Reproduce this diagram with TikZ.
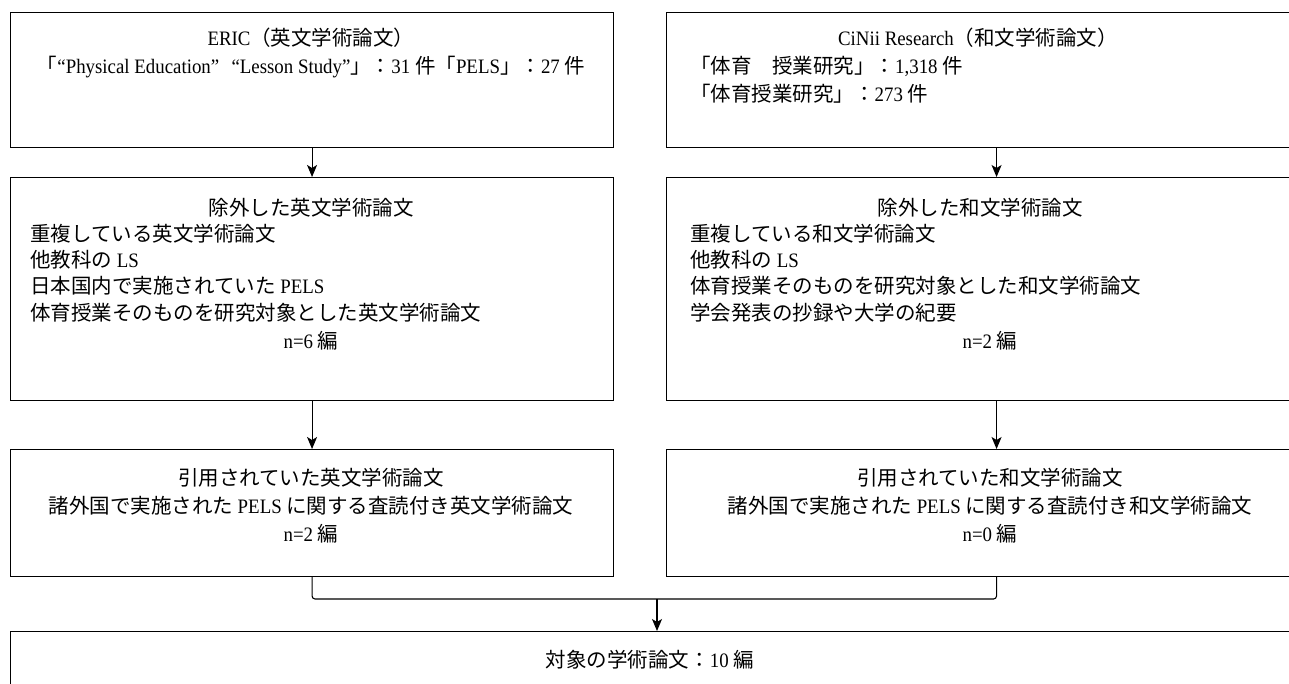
\documentclass[tikz,border=0pt]{standalone}
\usepackage{fontspec}
\setmainfont[FakeStretch=0.92]{Liberation Serif}
\newfontfamily\jpfont{Noto Sans CJK JP}
\newcommand{\J}[1]{{\jpfont #1}}
\usetikzlibrary{arrows.meta}
\begin{document}
\begin{tikzpicture}[x=1pt,y=-1pt,
  box/.style={draw, line width=1.1pt, anchor=north west, inner sep=0pt},
  txt/.style={anchor=base, inner sep=0pt, font=\fontsize{20.5}{24}\selectfont},
  ltxt/.style={txt, anchor=base west},
  arr/.style={line width=1.1pt, -{Stealth[length=12pt,width=10pt,inset=3pt]}},
  link/.style={line width=1.1pt, rounded corners=3pt}]
\clip (0,0) rectangle (1289,684);
\fill[white] (0,0) rectangle (1289,684);
% boxes
\node[box, minimum width=603, minimum height=135] (l1) at (10,12) {};
\node[box, minimum width=603, minimum height=223] (l2) at (10,177) {};
\node[box, minimum width=603, minimum height=127] (l3) at (10,449) {};
\node[box, minimum width=660, minimum height=135] (r1) at (666,12) {};
\node[box, minimum width=660, minimum height=223] (r2) at (666,177) {};
\node[box, minimum width=660, minimum height=127] (r3) at (666,449) {};
\node[box, minimum width=1400, minimum height=120] (fin) at (10,631) {};
% texts left column
\node[txt] (l1a) at (311,46) {ERIC\J{（英文学術論文）}};
\node[txt] (l1b) at (311,74) {\J{「}“Physical Education”\hspace{0.6em}“Lesson Study”\J{」：}31 \J{件「}PELS\J{」：}27 \J{件}};
\node[txt] (l2a) at (311,216) {\J{除外した英文学術論文}};
\node[ltxt] (l2b) at (30,242) {\J{重複している英文学術論文}};
\node[ltxt] (l2c) at (30,268) {\J{他教科の} LS};
\node[ltxt] (l2d) at (30,294) {\J{日本国内で実施されていた} PELS};
\node[ltxt] (l2e) at (30,320) {\J{体育授業そのものを研究対象とした英文学術論文}};
\node[txt] (l2f) at (311,348) {n=6 \J{編}};
\node[txt] (l3a) at (311,485) {\J{引用されていた英文学術論文}};
\node[txt] (l3b) at (311,513) {\J{諸外国で実施された} PELS \J{に関する査読付き英文学術論文}};
\node[txt] (l3c) at (311,541) {n=2 \J{編}};
% texts right column
\node[txt] (r1a) at (978,46) {CiNii Research\J{（和文学術論文）}};
\node[ltxt] (r1b) at (690,74) {\J{「体育　授業研究」：}1,318 \J{件}};
\node[ltxt] (r1c) at (690,102) {\J{「体育授業研究」：}273 \J{件}};
\node[txt] (r2a) at (980,216) {\J{除外した和文学術論文}};
\node[ltxt] (r2b) at (690,242) {\J{重複している和文学術論文}};
\node[ltxt] (r2c) at (690,268) {\J{他教科の} LS};
\node[ltxt] (r2d) at (690,294) {\J{体育授業そのものを研究対象とした和文学術論文}};
\node[ltxt] (r2e) at (690,320) {\J{学会発表の抄録や大学の紀要}};
\node[txt] (r2f) at (990,348) {n=2 \J{編}};
\node[txt] (r3a) at (990,485) {\J{引用されていた和文学術論文}};
\node[txt] (r3b) at (990,513) {\J{諸外国で実施された} PELS \J{に関する査読付き和文学術論文}};
\node[txt] (r3c) at (990,541) {n=0 \J{編}};
% final text
\node[txt] (fa) at (650,667) {\J{対象の学術論文：}10 \J{編}};
% connectors
\draw[arr] (l1.south) -- (l2.north);
\draw[arr] (l2.south) -- (l3.north);
\draw[arr] (r1.south) -- (r2.north);
\draw[arr] (r2.south) -- (r3.north);
\coordinate (mrg) at (657,599);
\draw[link] (l3.south) -- (l3.south |- mrg) -- (r3.south |- mrg) -- (r3.south);
\draw[arr] (mrg) -- (mrg |- fin.north);
\end{tikzpicture}
\end{document}
